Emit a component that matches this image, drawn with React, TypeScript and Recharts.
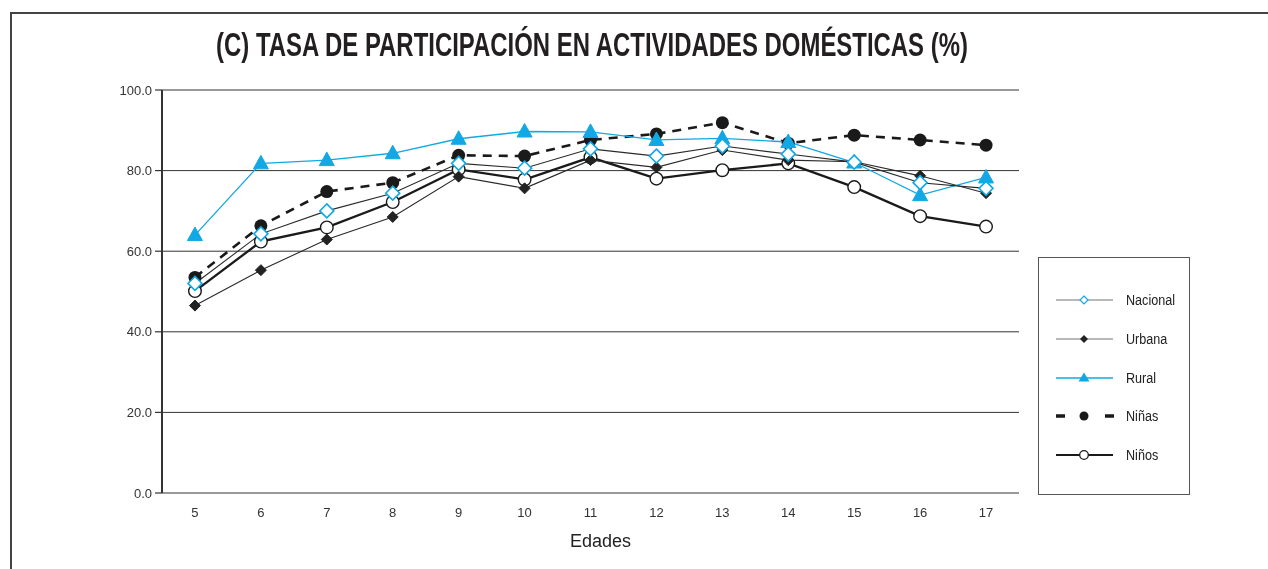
import { LineChart, Line, XAxis, YAxis, CartesianGrid, Legend } from "recharts";

const ages = [5, 6, 7, 8, 9, 10, 11, 12, 13, 14, 15, 16, 17];
const nacional = [52.0, 64.3, 70.0, 74.4, 81.8, 80.6, 85.4, 83.6, 86.1, 84.1, 82.1, 77.0, 75.6];
const urbana = [46.5, 55.3, 62.9, 68.5, 78.5, 75.6, 82.6, 80.8, 85.1, 82.6, 82.2, 78.7, 74.4];
const rural = [64.0, 81.8, 82.6, 84.3, 87.9, 89.7, 89.6, 87.6, 88.0, 87.1, 82.0, 73.9, 78.3];
const ninas = [53.5, 66.3, 74.8, 77.0, 83.8, 83.6, 87.6, 89.1, 91.9, 86.8, 88.8, 87.6, 86.3];
const ninos = [50.1, 62.4, 65.9, 72.2, 80.3, 77.8, 83.3, 78.0, 80.1, 81.8, 75.9, 68.7, 66.1];
const yTicks = [0, 20, 40, 60, 80, 100];
const xEdges = [4.5, 5.5, 6.5, 7.5, 8.5, 9.5, 10.5, 11.5, 12.5, 13.5, 14.5, 15.5, 16.5, 17.5];

const data = ages.map((age, i) => ({
  age,
  Nacional: nacional[i],
  Urbana: urbana[i],
  Rural: rural[i],
  Ninas: ninas[i],
  Ninos: ninos[i],
}));

const CYAN = "#12a8e4";
const FONT = "'Liberation Sans Narrow', 'Arial Narrow', 'Liberation Sans', sans-serif";

type Shape = "diamondOpen" | "diamond" | "triangle" | "circle" | "circleOpen";

const markerPath = (shape: Shape, cx: number, cy: number, key?: any) => {
  switch (shape) {
    case "diamondOpen":
      return (
        <path key={key} d={`M${cx},${cy - 7}L${cx + 7},${cy}L${cx},${cy + 7}L${cx - 7},${cy}Z`}
          fill="#fff" stroke={CYAN} strokeWidth={1.6} />
      );
    case "diamond":
      return (
        <path key={key} d={`M${cx},${cy - 5.5}L${cx + 5.5},${cy}L${cx},${cy + 5.5}L${cx - 5.5},${cy}Z`}
          fill="#222" stroke="#222" strokeWidth={1} />
      );
    case "triangle":
      return (
        <path key={key} d={`M${cx},${cy - 8}L${cx + 7.5},${cy + 5.5}L${cx - 7.5},${cy + 5.5}Z`}
          fill={CYAN} stroke={CYAN} strokeWidth={1} />
      );
    case "circle":
      return <circle key={key} cx={cx} cy={cy} r={6.5} fill="#1a1a1a" />;
    default:
      return <circle key={key} cx={cx} cy={cy} r={6.3} fill="#fff" stroke="#1a1a1a" strokeWidth={1.4} />;
  }
};

const dotFor = (shape: Shape) => (props: any) => {
  const { cx, cy, index } = props;
  if (cx == null || cy == null) return <g key={index} />;
  return markerPath(shape, cx, cy, index);
};

const series = [
  { key: "Ninas", name: "Niñas", stroke: "#1a1a1a", width: 2.6, dash: "9 7", shape: "circle" as Shape, legendStroke: "#1a1a1a" },
  { key: "Ninos", name: "Niños", stroke: "#1a1a1a", width: 2.3, dash: undefined, shape: "circleOpen" as Shape, legendStroke: "#1a1a1a" },
  { key: "Urbana", name: "Urbana", stroke: "#2a2a2a", width: 1.1, dash: undefined, shape: "diamond" as Shape, legendStroke: "#a0a0a0" },
  { key: "Rural", name: "Rural", stroke: CYAN, width: 1.3, dash: undefined, shape: "triangle" as Shape, legendStroke: CYAN },
  { key: "Nacional", name: "Nacional", stroke: "#2a2a2a", width: 1.1, dash: undefined, shape: "diamondOpen" as Shape, legendStroke: "#a0a0a0" },
];

const legendOrder = ["Nacional", "Urbana", "Rural", "Ninas", "Ninos"];

const LegendBox = () => (
  <div
    style={{
      width: 152,
      height: 238,
      boxSizing: "border-box",
      border: "1.5px solid #555",
      paddingTop: 23,
      fontFamily: FONT,
      fontSize: 14,
      color: "#222",
    }}
  >
    {legendOrder.map((k) => {
      const s = series.find((x) => x.key === k)!;
      return (
        <div key={k} style={{ height: 38.7, display: "flex", alignItems: "center" }}>
          <svg width={80} height={20} style={{ marginLeft: 15 }}>
            {k === "Ninas" ? (
              <line x1={2} y1={10} x2={60} y2={10} stroke="#1a1a1a" strokeWidth={3.5} strokeDasharray="9 40" />
            ) : (
              <line x1={2} y1={10} x2={59} y2={10} stroke={s.legendStroke} strokeWidth={k === "Ninos" ? 2.2 : 1.4} />
            )}
            {s.shape === "diamondOpen" ? (
              <path d="M30,6L34,10L30,14L26,10Z" fill="#fff" stroke={CYAN} strokeWidth={1.2} />
            ) : s.shape === "diamond" ? (
              <path d="M30,6L34,10L30,14L26,10Z" fill="#222" />
            ) : s.shape === "triangle" ? (
              <path d="M30,4.5L35.5,13.5L24.5,13.5Z" fill={CYAN} />
            ) : s.shape === "circle" ? (
              <circle cx={30} cy={10} r={4.5} fill="#1a1a1a" />
            ) : (
              <circle cx={30} cy={10} r={4.3} fill="#fff" stroke="#1a1a1a" strokeWidth={1.3} />
            )}
          </svg>
          <span style={{ marginLeft: -8, display: "inline-block", transform: "scaleX(0.9)", transformOrigin: "left" }}>
            {s.name}
          </span>
        </div>
      );
    })}
  </div>
);

export default function App() {
  return (
    <div style={{ position: "relative", width: 1252, height: 553, overflow: "hidden" }}>
      <div
        style={{
          position: "fixed",
          left: 10,
          top: 12,
          width: 1300,
          height: 600,
          borderLeft: "2px solid #444",
          borderTop: "2px solid #444",
        }}
      />
      <div
        style={{
          position: "absolute",
          left: 0,
          top: 18,
          width: 1168,
          textAlign: "center",
          fontFamily: FONT,
          fontWeight: "bold",
          fontSize: 33,
          color: "#231f20",
          transform: "scaleX(0.725)",
          transformOrigin: "584px 0",
          whiteSpace: "nowrap",
        }}
      >
        (C) TASA DE PARTICIPACIÓN EN ACTIVIDADES DOMÉSTICAS (%)
      </div>
      <LineChart
        width={1252}
        height={553}
        data={data}
        margin={{ top: 82, right: 241, bottom: 0, left: 0 }}
        style={{ fontFamily: FONT }}
      >
        <CartesianGrid vertical={false} stroke="#333" strokeWidth={1} />
        <XAxis
          xAxisId="edges"
          dataKey="age"
          type="number"
          domain={[4.5, 17.5]}
          ticks={xEdges}
          tick={false}
          tickSize={6}
          height={0}
          axisLine={{ stroke: "#333", strokeWidth: 2 }}
          tickLine={{ stroke: "#333", strokeWidth: 1.2 }}
          allowDataOverflow
        />
        <XAxis
          dataKey="age"
          type="number"
          domain={[4.5, 17.5]}
          ticks={ages}
          height={68}
          axisLine={false}
          tickLine={false}
          tickSize={0}
          tickMargin={15}
          interval={0}
          tick={{ fill: "#333", fontSize: 13 }}
          label={{ value: "Edades", position: "insideBottom", offset: 14, dx: 10, fill: "#222", fontSize: 18 }}
          allowDataOverflow
        />
        <YAxis
          domain={[0, 100]}
          ticks={yTicks}
          width={154}
          tickSize={7}
          tickMargin={3}
          tickFormatter={(v: number) => v.toFixed(1)}
          axisLine={{ stroke: "#333", strokeWidth: 2 }}
          tickLine={{ stroke: "#333", strokeWidth: 1.2 }}
          tick={{ fill: "#333", fontSize: 13 }}
        />
        <YAxis
          yAxisId="right"
          orientation="right"
          width={0}
          domain={[0, 100]}
          tick={false}
          tickLine={false}
          axisLine={{ stroke: "#333", strokeWidth: 2 }}
        />
        <Legend
          layout="vertical"
          align="center"
          verticalAlign="middle"
          content={() => <LegendBox />}
          wrapperStyle={{ left: 1030, top: 249, width: 152, height: 238 }}
        />
        {series.map((s) => (
          <Line
            key={s.key}
            dataKey={s.key}
            name={s.name}
            type="linear"
            stroke={s.stroke}
            strokeWidth={s.width}
            strokeDasharray={s.dash}
            dot={dotFor(s.shape)}
            activeDot={false}
            isAnimationActive={false}
          />
        ))}
      </LineChart>
    </div>
  );
}
